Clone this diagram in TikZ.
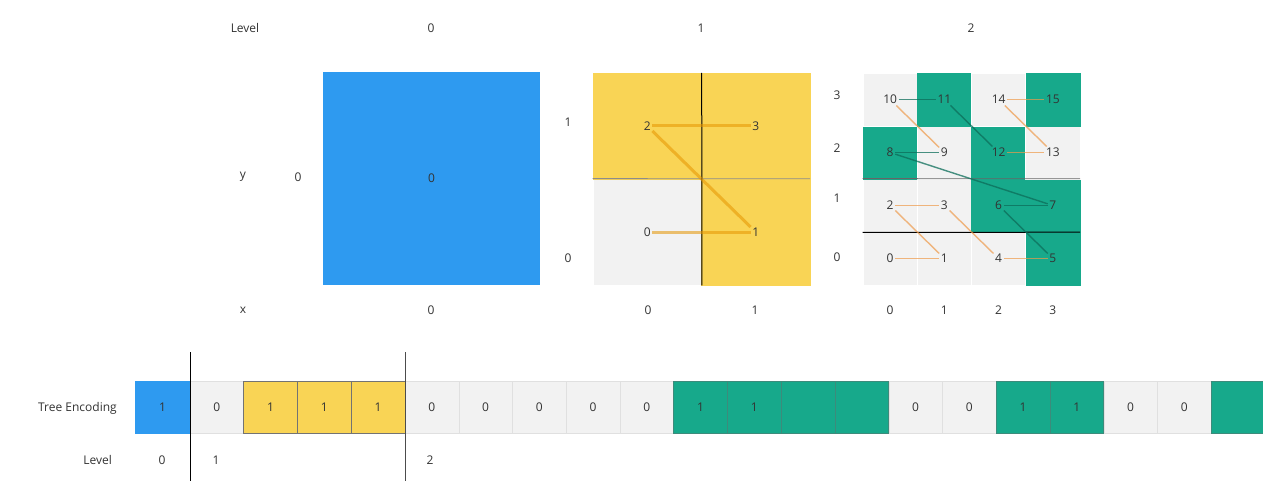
\documentclass[tikz,border=0pt]{standalone}
\usepackage{fontspec}
\setmainfont{Open Sans}
\usepackage{xcolor}
\usetikzlibrary{positioning,calc}

\definecolor{cblue}{HTML}{2E9AF0}
\definecolor{cgold}{HTML}{F9D455}
\definecolor{cteal}{HTML}{17A98B}
\definecolor{cgray}{HTML}{F2F2F2}
\definecolor{corange}{HTML}{EE9A4A}
\definecolor{cdark}{HTML}{0D6E5A}
\definecolor{ctext}{HTML}{333333}

\begin{document}
\begin{tikzpicture}[x=1pt, y=-1pt,
  every node/.style={font=\fontsize{12}{14}\selectfont, text=ctext},
  lbl/.style={inner sep=1pt},
  num/.style={inner sep=1.5pt},
  bigcell/.style={minimum width=217pt, minimum height=212pt, inner sep=0pt},
  midcell/.style={minimum width=108.5pt, minimum height=106pt, inner sep=0pt},
  cell/.style={minimum width=54.25pt, minimum height=53pt, inner sep=0pt},
  enc/.style={minimum width=53.75pt, minimum height=52pt, inner sep=0pt},
  gcell/.style={fill=cgray, draw=white, line width=0.8pt},
  ycell/.style={fill=cgold, draw=cgold},
  tcell/.style={fill=cteal, draw=cteal},
  gbar/.style={fill=cgray, draw=black!12, line width=0.4pt},
  ybar/.style={fill=cgold, draw=black!55, line width=0.6pt},
  tbar/.style={fill=cteal, draw=cdark!80, line width=0.6pt},
  zgold/.style={draw=orange!70!yellow!90!black, line width=3pt, opacity=0.55},
  zo/.style={draw=corange, line width=1.4pt, opacity=0.7},
  zt/.style={draw=cdark, line width=1.4pt, opacity=0.75},
  divider/.style={draw=black, line width=1pt}
]
\useasboundingbox (0,0) rectangle (1263,481);

% headings
\node[lbl] (hlevel) at (245,28) {Level};
\node[lbl] (h0) at (431,28) {0};
\node[lbl] (h1) at (701,28) {1};
\node[lbl] (h2) at (971,28) {2};
\node[lbl] (ylab) at (243,177) {y};
\node[lbl] (xlab) at (243,310) {x};

% level 0
\node[bigcell, fill=cblue] (c0) at (431.5,178.5) {0};
\node[lbl] (cy0) at (298,177) {0};
\node[lbl] (cx0) at (431,310) {0};

% level 1 (z-order)
\foreach \i/\cx/\cy/\st in {0/0/0/gcell, 1/1/0/ycell, 2/0/1/ycell, 3/1/1/ycell} {
  \node[midcell, \st] (a\i) at ({593+108.5*(\cx+0.5)}, {285-106*(\cy+0.5)}) {};
  \node[num] (m\i) at (a\i) {\i};
}
\draw[draw=black!45, line width=0.8pt] (a0.north west) -- (a1.north east);
\draw[divider] (a2.north east) -- (a0.south east);
\foreach \i [evaluate=\i as \j using int(\i+1)] in {0,1,2}
  \draw[zgold] (m\i) -- (m\j);
\node[lbl] (ay1) at (568,122) {1};
\node[lbl] (ay0) at (568,258) {0};
\node[lbl] (ax0) at (648,310) {0};
\node[lbl] (ax1) at (755,310) {1};

% level 2 (z-order)
\foreach \i/\cx/\cy/\st in {0/0/0/gcell, 1/1/0/gcell, 2/0/1/gcell, 3/1/1/gcell,
    4/2/0/gcell, 5/3/0/tcell, 6/2/1/tcell, 7/3/1/tcell,
    8/0/2/tcell, 9/1/2/gcell, 10/0/3/gcell, 11/1/3/tcell,
    12/2/2/tcell, 13/3/2/gcell, 14/2/3/gcell, 15/3/3/tcell} {
  \node[cell, \st] (b\i) at ({863+54.25*(\cx+0.5)}, {285-53*(\cy+0.5)}) {};
  \node[num] (n\i) at (b\i) {\i};
}
\draw[draw=black!60, line width=0.8pt] (b2.north west) -- (b7.north east);
\draw[divider] (b2.south west) -- (b7.south east);
\foreach \i/\j/\st in {0/1/zo, 1/2/zo, 2/3/zo, 3/4/zo, 4/5/zo, 5/6/zt, 6/7/zt,
    7/8/zt, 8/9/zt, 9/10/zo, 10/11/zt, 11/12/zt, 12/13/zo, 13/14/zo, 14/15/zo}
  \draw[\st] (n\i) -- (n\j);
\foreach \k/\yy in {0/257, 1/198, 2/148, 3/95}
  \node[lbl] (by\k) at (837,\yy) {\k};
\foreach \k in {0,1,2,3}
  \node[lbl] (bx\k) at ({863+54.25*(\k+0.5)},310) {\k};

% tree encoding
\node[lbl, anchor=east] (tenc) at (118,408) {Tree Encoding};
\node[lbl, anchor=east] (tlev) at (113,460) {Level};
\node[enc, minimum width=55pt, fill=cblue, draw=cblue] (e0) at (162.5,407) {1};
\foreach \k/\st/\t in {0/gbar/0, 1/ybar/1, 2/ybar/1, 3/ybar/1}
  \node[enc, \st] (e\k-1) at ({190+53.75*(\k+0.5)},407) {\t};
\foreach \k/\st/\t in {0/gbar/0, 1/gbar/0, 2/gbar/0, 3/gbar/0, 4/gbar/0,
    5/tbar/1, 6/tbar/1, 7/tbar/, 8/tbar/, 9/gbar/0, 10/gbar/0,
    11/tbar/1, 12/tbar/1, 13/gbar/0, 14/gbar/0, 15/tbar/}
  \node[enc, \st] (f\k) at ({405+53.75*(\k+0.5)},407) {\t};
\node[lbl] (lev0) at (162,460) {0};
\node[lbl] (lev1) at (216,460) {1};
\node[lbl] (lev2) at (430,460) {2};

% level dividers
\coordinate (d1top) at (190,352);
\coordinate (d1bot) at (190,481);
\coordinate (d2top) at (405,352);
\coordinate (d2bot) at (405,481);
\draw[divider] (d1top) -- (d1bot);
\draw[divider, draw=black!70] (d2top) -- (d2bot);
\end{tikzpicture}
\end{document}
